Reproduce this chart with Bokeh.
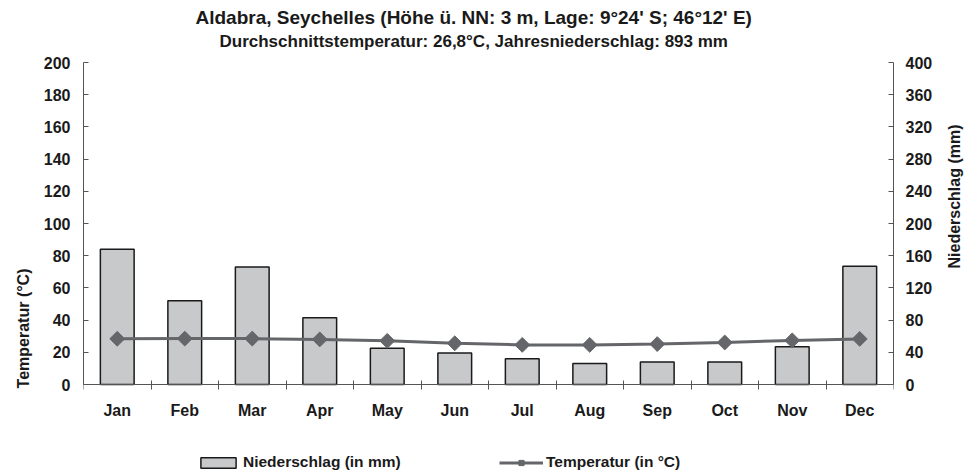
import math
from bokeh.plotting import figure
from bokeh.models import (Range1d, LinearAxis, FixedTicker, Title, Legend, LegendItem,
                          ColumnDataSource, LabelSet)
from bokeh.core.properties import value
from bokeh.embed import file_html
from bokeh.resources import INLINE

# ---- data ----
months = ["Jan", "Feb", "Mar", "Apr", "May", "Jun", "Jul", "Aug", "Sep", "Oct", "Nov", "Dec"]
precip_mm = [168, 104, 146, 83, 45, 39, 32, 26, 28, 28, 47, 147]
temp_c = [28.4, 28.5, 28.5, 28.0, 27.1, 25.6, 24.6, 24.6, 25.1, 26.1, 27.4, 28.3]
temp_ticks = [0, 20, 40, 60, 80, 100, 120, 140, 160, 180, 200]
precip_ticks = [0, 40, 80, 120, 160, 200, 240, 280, 320, 360, 400]
title_text = "Aldabra, Seychelles (Höhe ü. NN: 3 m, Lage: 9°24' S; 46°12' E)"
subtitle_text = "Durchschnittstemperatur: 26,8°C, Jahresniederschlag: 893 mm"
temp_axis_label = "Temperatur (°C)"
precip_axis_label = "Niederschlag (mm)"
precip_legend = "Niederschlag (in mm)"
temp_legend = "Temperatur (in °C)"

# ---- layout / style ----
W, H = 975, 474
LEFT, RIGHT, TOP = 83, 82, 62
PLOT_H = 322                      # pixel height of the 0..max value area
BELOW = H - TOP - PLOT_H          # room under the zero line for month labels + legend
FONT = "Liberation Sans"
TXT = "#1a1a1a"
AX = "#555555"
BAR_FILL = "#C8C9CB"
LINE_C = "#646669"

idx = list(range(len(months)))
centers = [i + 0.5 for i in idx]
bounds = list(range(len(months) + 1))

src = ColumnDataSource(dict(x=centers, month=months, precip=precip_mm, temp=temp_c))

t_lo = -temp_ticks[-1] * BELOW / PLOT_H
p_lo = -precip_ticks[-1] * BELOW / PLOT_H

p = figure(width=W, height=H, output_backend="svg", toolbar_location=None,
           x_range=Range1d(0, len(months)), y_range=Range1d(t_lo, temp_ticks[-1]),
           x_axis_location="above", title=None,
           min_border_left=LEFT, min_border_right=RIGHT, min_border_top=TOP,
           min_border_bottom=0)
p.extra_y_ranges = {"precip": Range1d(p_lo, precip_ticks[-1])}
p.outline_line_color = None
p.xgrid.visible = False
p.ygrid.visible = False
p.background_fill_color = "white"
p.border_fill_color = "white"

bars = p.vbar(x="x", top="precip", bottom=0, width=0.5, source=src, y_range_name="precip",
              fill_color=BAR_FILL, line_color="#1a1a1a", line_width=1.5)
line = p.line(x="x", y="temp", source=src, line_color=LINE_C, line_width=3)
pts = p.scatter(x="x", y="temp", source=src, marker="square", angle=math.pi / 4,
                size=10.5, fill_color=LINE_C, line_color=LINE_C)

# x axis: drawn on the zero line, ticks between the months
xa = p.xaxis[0]
xa.fixed_location = 0
xa.ticker = FixedTicker(ticks=[], minor_ticks=bounds)
xa.major_tick_line_color = None
xa.major_tick_in = 0
xa.major_tick_out = 0
xa.minor_tick_in = 5
xa.minor_tick_out = 4
xa.minor_tick_line_color = AX
xa.axis_line_color = AX
xa.major_label_standoff = 0

month_labels = LabelSet(x="x", y=0, text="month", source=src, y_offset=-26,
                        text_align="center", text_baseline="middle",
                        text_font=value(FONT), text_font_size=value("16px"),
                        text_font_style="bold", text_color=TXT)
p.add_layout(month_labels)

# left axis
ya = p.yaxis[0]
ya.ticker = FixedTicker(ticks=temp_ticks)
ya.bounds = (temp_ticks[0], temp_ticks[-1])
ya.axis_label = temp_axis_label
ya.major_tick_in = 5
ya.major_tick_out = 0
ya.minor_tick_line_color = None
ya.major_tick_line_color = AX
ya.axis_line_color = AX
ya.major_label_standoff = 13
ya.axis_label_standoff = 17
ya.axis_label_orientation = math.pi / 2
ya.major_label_text_font = FONT
ya.major_label_text_font_size = "16px"
ya.major_label_text_font_style = "bold"
ya.major_label_text_color = TXT
ya.axis_label_text_font = FONT
ya.axis_label_text_font_size = "16px"
ya.axis_label_text_font_style = "bold"
ya.axis_label_text_color = TXT
ya.axis_label_text_align = "right"

# right axis
ra = LinearAxis(y_range_name="precip", ticker=FixedTicker(ticks=precip_ticks),
                axis_label=precip_axis_label)
ra.bounds = (precip_ticks[0], precip_ticks[-1])
ra.major_tick_in = 5
ra.major_tick_out = 0
ra.minor_tick_line_color = None
ra.major_tick_line_color = AX
ra.axis_line_color = AX
ra.major_label_standoff = 12
ra.axis_label_standoff = 19
ra.axis_label_orientation = math.pi / 2
ra.major_label_text_font = FONT
ra.major_label_text_font_size = "16px"
ra.major_label_text_font_style = "bold"
ra.major_label_text_color = TXT
ra.axis_label_text_font = FONT
ra.axis_label_text_font_size = "16px"
ra.axis_label_text_font_style = "bold"
ra.axis_label_text_color = TXT
ra.axis_label_text_align = "left"
p.add_layout(ra, "right")

# titles
p.add_layout(Title(text=subtitle_text, align="left", offset=136, standoff=24,
                   text_font=FONT, text_font_size="17px", text_font_style="bold",
                   text_color=TXT), "above")
p.add_layout(Title(text=title_text, align="left", offset=112, standoff=-20,
                   text_font=FONT, text_font_size="19px", text_font_style="bold",
                   text_color=TXT), "above")

# legend (inside the frame, under the month labels)
legend = Legend(items=[LegendItem(label=precip_legend, renderers=[bars]),
                       LegendItem(label=temp_legend, renderers=[line, pts])],
                location=(113, 3), orientation="horizontal", padding=0, margin=0,
                spacing=96, border_line_color=None, background_fill_alpha=0,
                glyph_width=44, glyph_height=13, label_standoff=3, label_width=160,
                label_height=16, label_text_font=FONT, label_text_font_size="15.5px",
                label_text_font_style="bold", label_text_color=TXT)
p.add_layout(legend)

open("out.html", "w").write(file_html(p, INLINE))
